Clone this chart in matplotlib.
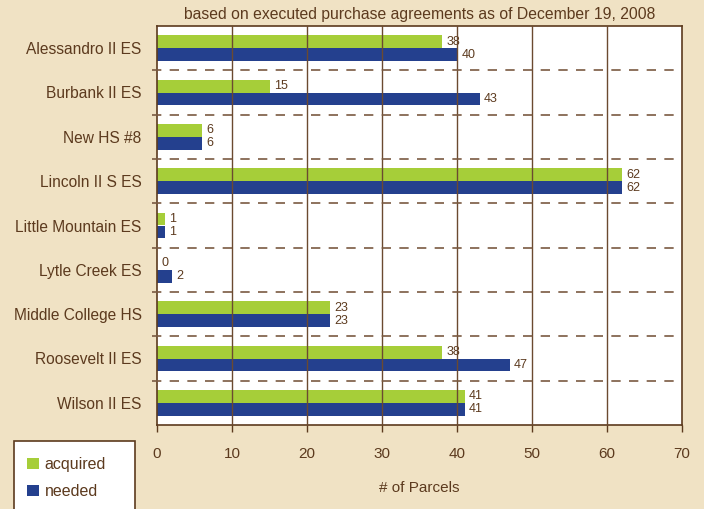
import numpy as np
import matplotlib.pyplot as plt
from matplotlib.patches import Patch, Rectangle

schools = ['Alessandro II ES', 'Burbank II ES', 'New HS #8', 'Lincoln II S ES',
           'Little Mountain ES', 'Lytle Creek ES', 'Middle College HS',
           'Roosevelt II ES', 'Wilson II ES']
acquired = [38, 15, 6, 62, 1, 0, 23, 38, 41]
needed = [40, 43, 6, 62, 1, 2, 23, 47, 41]
xticks = [0, 10, 20, 30, 40, 50, 60, 70]

bg = '#F0E2C4'
brown = '#5C3A1E'
green = '#A6CE39'
blue = '#24408E'

plt.rcParams['font.family'] = ['Liberation Sans', 'DejaVu Sans']

fig = plt.figure(figsize=(7.04, 5.09), dpi=100, facecolor=bg)
ax = fig.add_axes([157/704, 1-425/509, 525/704, 399/509])
ax.set_facecolor('white')

y = np.arange(len(schools))
h = 0.29
ax.barh(y - h/2, acquired, height=h, color=green, zorder=2)
ax.barh(y + h/2, needed, height=h, color=blue, zorder=2)

for i in range(len(schools)):
    ax.text(acquired[i] + 0.6, y[i] - h/2, str(acquired[i]), va='center', ha='left',
            fontsize=9, color=brown)
    ax.text(needed[i] + 0.6, y[i] + h/2, str(needed[i]), va='center', ha='left',
            fontsize=9, color=brown)

# vertical grid over the bars
for t in xticks[1:-1]:
    ax.axvline(t, color='#6B4A30', linewidth=1, zorder=3)

# dashed separators between schools
for k in range(len(schools) - 1):
    ax.axhline(k + 0.5, xmin=-0.01, xmax=1, color='#7A5A42', linewidth=1.2,
               linestyle=(0, (5.6, 5)), clip_on=False, zorder=3)

ax.set_xlim(0, 70)
ax.set_ylim(len(schools) - 0.5, -0.5)
ax.set_xticks(xticks)
ax.set_yticks(y)
ax.set_yticklabels(schools, fontsize=11.2, color=brown)
ax.tick_params(axis='y', length=0, pad=11)
ax.tick_params(axis='x', colors=brown, labelsize=11, length=5, width=1,
               direction='out', pad=11)
for s in ax.spines.values():
    s.set_color(brown)
    s.set_linewidth(1.2)

ax.set_xlabel('# of Parcels', fontsize=11, color=brown, labelpad=14)
ax.set_title('based on executed purchase agreements as of December 19, 2008',
             fontsize=11.3, color=brown, pad=5)

# legend box
fig.patches.append(Rectangle((14/704, 1-512/509), 121/704, 71/509,
                             transform=fig.transFigure, facecolor='white',
                             edgecolor=brown, linewidth=1.2, zorder=1))
handles = [Patch(facecolor=green, label='acquired'), Patch(facecolor=blue, label='needed')]
leg = fig.legend(handles=handles, loc='upper left', bbox_to_anchor=(27/704, 1-457/509),
                 frameon=False, fontsize=11.5, handlelength=0.75, handleheight=0.75,
                 handletextpad=0.35, labelspacing=0.75, borderpad=0, borderaxespad=0,
                 labelcolor=brown)
leg.set_zorder(2)

fig.savefig('out.png', dpi=100, facecolor=bg)
